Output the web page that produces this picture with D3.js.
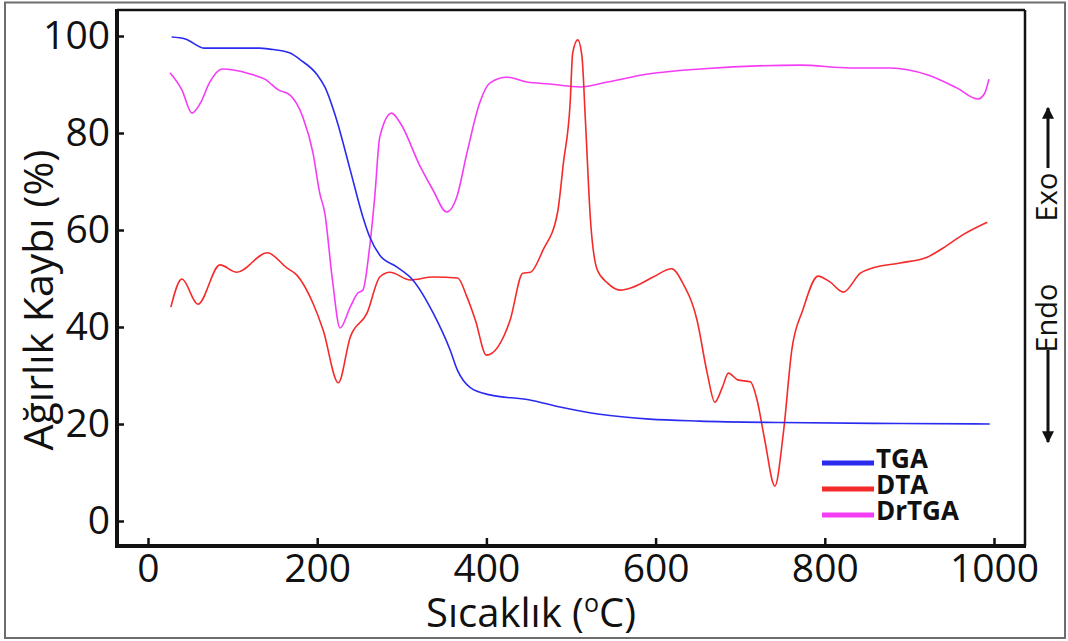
<!DOCTYPE html>
<html>
<head>
<meta charset="utf-8">
<script src="https://cdn.jsdelivr.net/npm/d3@7"></script>
<style>
  body { margin: 0; background: #fff; }
  svg { display: block; font-family: "Open Sans", sans-serif; }
</style>
</head>
<body>
<svg id="chart" width="1068" height="641"></svg>
<script>
// TGA - weight loss
var tgaT = [28, 44, 67, 132, 144, 168, 180, 200, 209, 223, 239, 254, 262, 274, 294, 313, 337, 357, 366, 381, 404, 450, 487, 534, 593, 652, 747, 889, 995];
var tgaV = [99.8, 99.4, 97.5, 97.5, 97.3, 96.5, 95.1, 92.0, 89.5, 82.7, 72.4, 62.7, 58.6, 54.8, 52.4, 49.7, 42.9, 35.3, 31, 27.5, 26, 25, 23.5, 22, 21, 20.6, 20.3, 20.1, 20];

// DTA
var dtaT = [27, 40, 59, 85, 105, 141, 164, 176, 195, 207, 225, 239, 259, 274, 286, 310, 337, 366, 377, 387, 400, 428, 443, 452, 467, 484, 491, 499, 502, 508, 513, 517, 523, 531, 543, 558, 573, 597, 619, 632, 649, 661, 670, 679, 686, 697, 712, 720, 729, 741, 751, 761, 774, 792, 806, 822, 842, 857, 889, 921, 940, 963, 992];
var dtaV = [44.1, 49.9, 44.7, 52.8, 51.3, 55.3, 52.2, 50.7, 44.9, 39.4, 28.5, 37.9, 42.9, 50.3, 51.3, 49.7, 50.3, 50.1, 46.2, 41.4, 34.2, 41.4, 51.1, 51.3, 55.9, 63.5, 73.8, 86.2, 96.5, 99.2, 95.7, 82.7, 62.1, 51.8, 49.1, 47.6, 48.2, 50.3, 52.0, 49.1, 41.4, 30.5, 24.5, 27.6, 30.5, 29.1, 28.7, 24.9, 16.7, 7.2, 18.1, 35.3, 43.5, 50.5, 49.3, 47.2, 51.1, 52.2, 53.2, 54.4, 56.3, 59.0, 61.6];

// DrTGA - derivative
var drT = [26, 40, 52, 62, 73, 88, 101, 124, 138, 154, 168, 183, 195, 203, 209, 218, 227, 239, 248, 254, 262, 268, 274, 288, 298, 322, 337, 353, 365, 377, 392, 404, 424, 448, 475, 511, 543, 593, 653, 771, 830, 877, 921, 956, 981, 989, 994];
var drV = [92.4, 88.9, 84.1, 86.2, 90.5, 93.2, 93.0, 92.0, 91.1, 88.9, 87.8, 83.3, 75.9, 67.6, 63.5, 49.7, 39.8, 44.1, 47.0, 47.6, 56.5, 66.8, 79.2, 84.1, 82.1, 73.0, 68.2, 63.7, 66.8, 75.9, 86.2, 90.3, 91.5, 90.5, 90.1, 89.5, 90.5, 92.2, 93.2, 94.0, 93.4, 93.4, 92.0, 89.3, 87.0, 88.2, 91.1];

var xTicks = [0, 200, 400, 600, 800, 1000];
var yTicks = [0, 20, 40, 60, 80, 100];
var seriesNames = ["TGA", "DTA", "DrTGA"];
var seriesColors = ["#2b2bf0", "#f52a2a", "#f53cf5"];

var svg = d3.select("#chart");

var x = d3.scaleLinear().domain([0, 1000]).range([148, 994]);
var y = d3.scaleLinear().domain([0, 100]).range([521, 36]);

// outer frame
svg.append("rect")
  .attr("x", 5).attr("y", 2.5).attr("width", 1060).attr("height", 635.5)
  .attr("fill", "none").attr("stroke", "#6d6d6d").attr("stroke-width", 2);

// plot box: thin top/right, heavy left/bottom
var L = 117, R = 1025, T = 10, B = 546;
svg.append("line").attr("x1", L).attr("x2", R).attr("y1", T).attr("y2", T)
  .attr("stroke", "#111").attr("stroke-width", 2.5);
svg.append("line").attr("x1", R).attr("x2", R).attr("y1", T).attr("y2", B)
  .attr("stroke", "#111").attr("stroke-width", 2.5);

var yAxis = svg.append("g")
  .attr("transform", "translate(" + L + ",0)")
  .call(d3.axisLeft(y).tickValues(yTicks).tickSize(-7).tickPadding(7));
yAxis.select(".domain").remove();
yAxis.selectAll("line").attr("stroke", "#111").attr("stroke-width", 2.5);
yAxis.selectAll("text").attr("font-size", 39).attr("fill", "#111")
  .attr("font-family", "Open Sans, sans-serif");

var xAxis = svg.append("g")
  .attr("transform", "translate(0," + B + ")")
  .call(d3.axisBottom(x).tickValues(xTicks).tickFormat(d3.format("d"))
    .tickSize(-8).tickPadding(8));
xAxis.select(".domain").remove();
xAxis.selectAll("line").attr("stroke", "#111").attr("stroke-width", 2.5);
xAxis.selectAll("text").attr("font-size", 39).attr("fill", "#111")
  .attr("font-family", "Open Sans, sans-serif");

svg.append("line").attr("x1", L).attr("x2", L).attr("y1", T - 1).attr("y2", B + 2)
  .attr("stroke", "#111").attr("stroke-width", 4);
svg.append("line").attr("x1", L - 2).attr("x2", R + 1).attr("y1", B).attr("y2", B)
  .attr("stroke", "#111").attr("stroke-width", 4);

// curves
var line = d3.line()
  .x(function (d) { return x(d[0]); })
  .y(function (d) { return y(d[1]); })
  .curve(d3.curveMonotoneX);

var series = [d3.zip(tgaT, tgaV), d3.zip(dtaT, dtaV), d3.zip(drT, drV)];
// draw DrTGA and DTA under TGA
[2, 1, 0].forEach(function (i) {
  svg.append("path")
    .datum(series[i])
    .attr("d", line)
    .attr("fill", "none")
    .attr("stroke", seriesColors[i])
    .attr("stroke-width", 1.6);
});

// legend
var leg = svg.append("g");
seriesNames.forEach(function (name, i) {
  var ly = 463 + i * 26;
  leg.append("line")
    .attr("x1", 822).attr("x2", 874).attr("y1", ly).attr("y2", ly)
    .attr("stroke", seriesColors[i]).attr("stroke-width", 5);
  leg.append("text")
    .attr("x", 876).attr("y", ly + 5)
    .attr("font-size", 26).attr("font-weight", "bold").attr("fill", "#111")
    .text(name);
});

// axis titles
var xt = svg.append("text")
  .attr("x", 531).attr("y", 627)
  .attr("text-anchor", "middle").attr("font-size", 40).attr("fill", "#111");
xt.append("tspan").text("Sıcaklık (");
xt.append("tspan").attr("font-size", 25).attr("dy", -15).text("o");
xt.append("tspan").attr("dy", 15).text("C)");

svg.append("text")
  .attr("transform", "translate(53,300) rotate(-90)")
  .attr("text-anchor", "middle").attr("font-size", 41).attr("fill", "#111")
  .text("Ağırlık Kaybı (%)");

// Exo / Endo marker on the right
var ex = 1057;
svg.append("text")
  .attr("transform", "translate(" + ex + ",197) rotate(-90)")
  .attr("text-anchor", "middle").attr("font-size", 29).attr("fill", "#111")
  .text("Exo");
svg.append("text")
  .attr("transform", "translate(" + ex + ",318) rotate(-90)")
  .attr("text-anchor", "middle").attr("font-size", 29).attr("fill", "#111")
  .text("Endo");

var defs = svg.append("defs");
defs.append("marker")
  .attr("id", "head").attr("viewBox", "0 0 10 10")
  .attr("refX", 9).attr("refY", 5)
  .attr("markerWidth", 4).attr("markerHeight", 4)
  .attr("markerUnits", "strokeWidth")
  .attr("orient", "auto")
  .append("path").attr("d", "M0,0 L10,5 L0,10 Z").attr("fill", "#111");

var ax = ex - 9;
svg.append("line").attr("x1", ax).attr("x2", ax).attr("y1", 168).attr("y2", 108)
  .attr("stroke", "#111").attr("stroke-width", 3).attr("marker-end", "url(#head)");
svg.append("line").attr("x1", ax).attr("x2", ax).attr("y1", 350).attr("y2", 442)
  .attr("stroke", "#111").attr("stroke-width", 3).attr("marker-end", "url(#head)");
</script>
</body>
</html>
